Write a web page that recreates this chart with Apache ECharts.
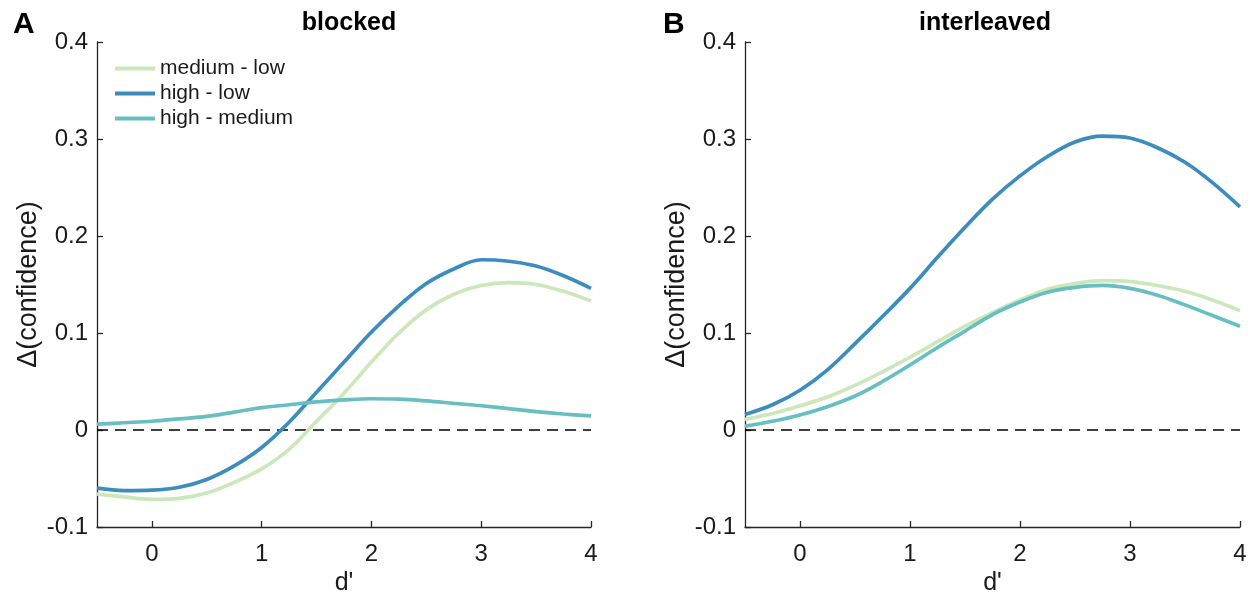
<!DOCTYPE html>
<html>
<head>
<meta charset="utf-8">
<script src="https://cdn.jsdelivr.net/npm/echarts@6/dist/echarts.min.js"></script>
<style>
html,body{margin:0;padding:0;background:#fff;}
#chart{width:1251px;height:597px;}
</style>
</head>
<body>
<div id="chart"></div>
<script>
// ---- data ----
const dPrime = [-0.5,-0.25,0,0.25,0.5,0.75,1,1.25,1.5,1.75,2,2.25,2.5,2.75,3,3.25,3.5,3.75,4];
const seriesNames = ['medium - low','high - low','high - medium'];
const panelTitles = ['blocked','interleaved'];
const panelLetters = ['A','B'];
const xTicks = [0,1,2,3,4];
const zeroLine = [[-0.5,0],[4,0]];

// blocked
const blockedMedLow  = [-0.066,-0.069,-0.0715,-0.0705,-0.065,-0.054,-0.040,-0.020,0.009,0.038,0.070,0.100,0.124,0.140,0.149,0.152,0.150,0.143,0.133];
const blockedHighLow = [-0.060,-0.0625,-0.062,-0.059,-0.051,-0.037,-0.018,0.008,0.039,0.070,0.101,0.128,0.151,0.166,0.1755,0.174,0.169,0.159,0.146];
const blockedHighMed = [0.006,0.0075,0.009,0.0115,0.014,0.0185,0.023,0.026,0.029,0.031,0.0322,0.0318,0.030,0.0275,0.025,0.022,0.019,0.0165,0.0145];
// interleaved
const interMedLow  = [0.011,0.017,0.025,0.034,0.046,0.060,0.075,0.091,0.107,0.121,0.134,0.145,0.151,0.154,0.153,0.149,0.143,0.134,0.123];
const interHighLow = [0.016,0.026,0.041,0.062,0.089,0.117,0.146,0.178,0.209,0.238,0.262,0.282,0.297,0.303,0.301,0.291,0.276,0.255,0.230];
const interHighMed = [0.004,0.009,0.0155,0.024,0.035,0.050,0.067,0.085,0.102,0.119,0.132,0.142,0.147,0.149,0.146,0.139,0.129,0.118,0.107];

const colors = ['#cce7b9','#3c8cbd','#68bfc2'];
const FONT = 'Liberation Sans, Arial, Helvetica, sans-serif';
const AX = '#262626';

function pairs(ys){ return dPrime.map((x,i)=>[x, ys[i]]); }

const panels = [
  [blockedMedLow, blockedHighLow, blockedHighMed],
  [interMedLow, interHighLow, interHighMed]
];

const grids = [
  {left:97, top:42, width:494, height:485, containLabel:false, outerBoundsMode:'none'},
  {left:745, top:42, width:495, height:485, containLabel:false, outerBoundsMode:'none'}
];

function xAxisFor(i){
  return {
    type:'value', gridIndex:i, min:-0.5, max:4,
    name:"d'", nameLocation:'middle', nameGap:40,
    nameTextStyle:{fontFamily:FONT, fontSize:25, color:'#1a1a1a'},
    axisLine:{show:true, onZero:false, lineStyle:{color:AX, width:1.3}},
    axisTick:{show:true, inside:true, length:6, customValues:xTicks, lineStyle:{color:AX, width:1.3}},
    axisLabel:{customValues:xTicks, margin:15, fontFamily:FONT, fontSize:24, color:'#1a1a1a'},
    splitLine:{show:false}
  };
}
function yAxisFor(i){
  return {
    type:'value', gridIndex:i, min:-0.1, max:0.4, interval:0.1,
    name:'Δ(confidence)', nameLocation:'middle', nameGap:55,
    nameTextStyle:{fontFamily:FONT, fontSize:27, color:'#1a1a1a'},
    axisLine:{show:true, onZero:false, lineStyle:{color:AX, width:1.3}},
    axisTick:{show:true, inside:true, length:6, lineStyle:{color:AX, width:1.3}},
    axisLabel:{margin:9, fontFamily:FONT, fontSize:24, color:'#1a1a1a',
      formatter:v=>{ const r=Math.round(v*10)/10; return r===0?'0':r.toFixed(1); }},
    splitLine:{show:false}
  };
}

const series = [];
panels.forEach((p,gi)=>{
  series.push({
    type:'line', xAxisIndex:gi, yAxisIndex:gi, data:zeroLine, symbol:'none',
    lineStyle:{color:'#000', width:1.4, type:[11,7]}, silent:true, z:1
  });
  p.forEach((ys,si)=>{
    series.push({
      name:seriesNames[si], type:'line', xAxisIndex:gi, yAxisIndex:gi,
      data:pairs(ys), symbol:'none', smooth:0.35,
      lineStyle:{color:colors[si], width:3.7}, itemStyle:{color:colors[si]}, z:2+si
    });
  });
});

const option = {
  backgroundColor:'#fff',
  animation:false,
  title:[
    {text:panelTitles[0], left:344, top:6, textAlign:'center', textStyle:{fontFamily:FONT, fontSize:25, fontWeight:'bold', color:'#000'}},
    {text:panelTitles[1], left:980, top:6, textAlign:'center', textStyle:{fontFamily:FONT, fontSize:25, fontWeight:'bold', color:'#000'}},
    {text:panelLetters[0], left:8, top:5, textStyle:{fontFamily:FONT, fontSize:30, fontWeight:'bold', color:'#000'}},
    {text:panelLetters[1], left:658, top:5, textStyle:{fontFamily:FONT, fontSize:30, fontWeight:'bold', color:'#000'}}
  ],
  legend:{
    data:seriesNames, orient:'vertical', left:110, top:53,
    icon:'rect', itemWidth:40, itemHeight:4, itemGap:4,
    textStyle:{fontFamily:FONT, fontSize:21, color:'#1a1a1a', lineHeight:21},
    selectedMode:false
  },
  grid:grids,
  xAxis:[xAxisFor(0), xAxisFor(1)],
  yAxis:[yAxisFor(0), yAxisFor(1)],
  series:series
};

const chart = echarts.init(document.getElementById('chart'), null, {renderer:'canvas'});
chart.setOption(option);
</script>
</body>
</html>
